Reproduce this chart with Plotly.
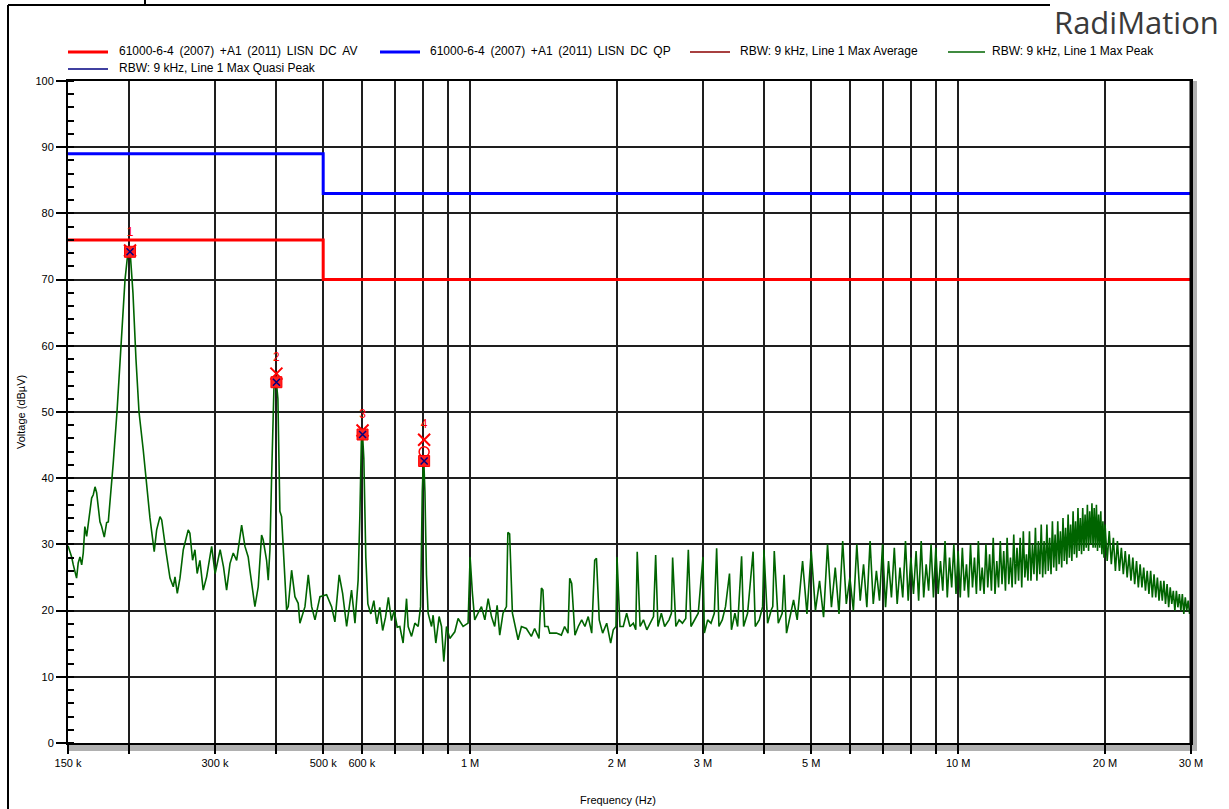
import plotly.graph_objects as go

# ---------------- data ----------------
# Limit lines (61000-6-4 (2007) +A1 (2011) LISN DC)
limit_freq_khz = [150, 500, 500, 30000]
av_limit_dbuv = [76, 76, 70, 70]
qp_limit_dbuv = [89, 89, 83, 83]

# Max Peak trace, 150 kHz .. 1 MHz (kHz / dBuV)
lf_freq_khz = [150.0, 152.6, 153.8, 156.2, 157.4, 158.7, 160.0, 161.2, 162.4, 163.8,
               167.7, 169.0, 170.4, 171.7, 174.4, 175.8, 178.0, 180.0, 181.4, 182.9,
               185.7, 189.0, 192.6, 196.3, 198.6, 200.0, 201.4, 203.8, 206.7, 209.7,
               213.9, 216.9, 220.8, 225.3, 227.9, 231.5, 233.4, 238.2, 242.7, 246.5,
               248.5, 251.2, 254.4, 258.4, 264.5, 266.6, 270.0, 273.0, 275.9, 279.5,
               283.9, 288.5, 295.4, 300.3, 307.5, 312.4, 317.0, 322.1, 327.1, 332.4,
               340.3, 345.7, 351.0, 353.8, 362.3, 368.0, 373.9, 376.7, 382.8, 385.8,
               388.9, 392.0, 396.3, 400.0, 403.8, 407.6, 410.9, 420.7, 424.0, 430.8,
               437.6, 444.4, 448.0, 458.8, 466.0, 473.5, 481.0, 492.5, 508.1, 520.2,
               528.4, 539.2, 548.0, 558.5, 571.6, 580.9, 589.6, 594.4, 598.6, 601.4,
               605.7, 611.4, 617.3, 626.0, 635.0, 644.0, 653.0, 662.0, 671.0, 680.0,
               690.0, 699.0, 709.0, 717.8, 729.0, 740.9, 746.6, 758.6, 770.6, 782.7,
               791.6, 798.0, 803.0, 808.0, 813.9, 820.3, 833.6, 839.9, 850.6, 864.0,
               873.8, 883.3, 894.6, 908.7, 930.4, 945.0, 967.5, 990.5]
lf_dbuv = [29.8, 28.1, 26.9, 24.9, 27.2, 28.1, 26.9, 28.7, 32.7, 31.2,
           37.0, 37.5, 38.7, 37.8, 33.4, 32.7, 31.1, 33.3, 33.4, 36.3,
           42.3, 50.0, 60.0, 70.0, 73.5, 74.4, 73.5, 68.0, 58.0, 50.0,
           44.3, 39.5, 34.0, 28.9, 32.2, 34.2, 33.7, 28.9, 24.9, 23.6,
           25.1, 22.6, 24.9, 29.2, 32.2, 31.7, 27.6, 29.2, 25.6, 27.6,
           23.1, 25.1, 29.7, 25.6, 29.2, 26.6, 23.1, 27.1, 28.7, 27.6,
           32.9, 29.7, 28.1, 26.1, 20.6, 23.6, 31.4, 30.7, 27.6, 24.6,
           29.2, 40.2, 53.5, 55.4, 52.0, 35.0, 34.2, 20.1, 20.6, 26.1,
           22.1, 21.1, 18.1, 20.6, 25.4, 20.6, 18.6, 22.1, 22.4, 20.6,
           18.3, 25.4, 22.6, 17.6, 23.1, 18.1, 24.6, 34.2, 45.5, 47.2,
           43.0, 28.0, 21.0, 19.5, 21.5, 18.0, 20.5, 17.0, 19.0, 22.0,
           18.5, 20.0, 17.5, 17.6, 15.1, 21.8, 17.6, 16.1, 18.1, 17.6,
           20.6, 38.0, 43.5, 38.0, 25.4, 19.6, 17.6, 19.3, 15.1, 19.1,
           17.6, 12.3, 17.6, 15.8, 16.8, 18.8, 17.6, 18.1]

# Max Peak trace, 1 MHz .. 4.7 MHz (MHz / dBuV)
mf_freq_mhz = [1.000, 1.011, 1.022, 1.038, 1.055, 1.072, 1.089, 1.106, 1.123, 1.136,
               1.150, 1.168, 1.187, 1.195, 1.205, 1.221, 1.234, 1.254, 1.274, 1.304,
               1.335, 1.356, 1.384, 1.400, 1.410, 1.422, 1.444, 1.456, 1.502, 1.538,
               1.562, 1.587, 1.600, 1.615, 1.640, 1.666, 1.693, 1.719, 1.746, 1.775,
               1.800, 1.815, 1.839, 1.869, 1.905, 1.941, 1.965, 1.990, 2.000, 2.028,
               2.060, 2.093, 2.126, 2.160, 2.185, 2.200, 2.230, 2.266, 2.302, 2.339,
               2.376, 2.400, 2.426, 2.465, 2.504, 2.556, 2.585, 2.600, 2.640, 2.681,
               2.723, 2.766, 2.800, 2.835, 2.889, 2.934, 3.000, 3.020, 3.067, 3.116,
               3.165, 3.200, 3.235, 3.286, 3.337, 3.400, 3.432, 3.488, 3.533, 3.600,
               3.634, 3.703, 3.800, 3.840, 3.913, 3.975, 4.000, 4.070, 4.140, 4.170,
               4.200, 4.280, 4.360, 4.400, 4.450, 4.520, 4.600, 4.680]
mf_dbuv = [28.1, 22.6, 18.6, 19.6, 20.6, 18.6, 21.8, 19.1, 17.6, 20.8,
           16.3, 19.6, 20.6, 31.8, 31.6, 19.6, 18.1, 15.6, 17.6, 17.3,
           16.1, 17.3, 15.8, 23.4, 23.1, 17.6, 17.6, 16.6, 16.6, 16.3,
           17.6, 16.6, 24.9, 24.1, 16.3, 17.6, 18.6, 17.6, 19.1, 16.6,
           27.6, 27.9, 18.6, 16.6, 18.1, 15.1, 17.1, 17.6, 28.1, 17.6,
           17.6, 19.6, 17.6, 18.1, 17.1, 28.9, 17.6, 18.6, 17.1, 18.1,
           19.1, 28.4, 17.6, 19.6, 17.6, 18.6, 19.6, 28.0, 17.6, 18.6,
           18.1, 18.8, 29.2, 17.6, 18.6, 19.6, 28.1, 16.6, 18.6, 18.1,
           19.6, 29.4, 17.6, 18.6, 20.6, 25.6, 17.1, 19.6, 17.6, 28.2,
           17.6, 19.6, 28.9, 17.6, 18.6, 20.6, 29.2, 18.1, 20.1, 20.6,
           29.0, 18.1, 19.6, 25.4, 16.6, 19.1, 21.6, 18.6]

# Max Peak trace, 4.8 MHz .. 10 MHz
hf1_freq_mhz = [4.8, 4.9, 5.0, 5.1, 5.2, 5.3, 5.4, 5.5, 5.6, 5.7,
                5.8, 5.9, 6.0, 6.1, 6.2, 6.3, 6.4, 6.5, 6.6, 6.7,
                6.8, 6.9, 7.0, 7.1, 7.2, 7.3, 7.4, 7.5, 7.6, 7.7,
                7.8, 7.9, 8.0, 8.1, 8.2, 8.3, 8.4, 8.5, 8.6, 8.7,
                8.8, 8.9, 9.0, 9.1, 9.2, 9.3, 9.4, 9.5, 9.6, 9.7,
                9.8, 9.9, 10.0]
hf1_dbuv = [27.5, 19.5, 29.0, 20.0, 24.5, 19.0, 30.0, 20.5, 26.5, 19.5,
            30.5, 21.0, 25.0, 20.0, 30.0, 21.5, 27.0, 20.5, 30.5, 21.0,
            26.0, 21.5, 30.0, 20.5, 27.5, 22.0, 29.5, 21.0, 26.5, 22.0,
            30.5, 21.5, 28.0, 22.5, 29.0, 21.5, 30.5, 22.0, 27.0, 23.0,
            30.0, 22.0, 29.5, 22.5, 27.5, 23.0, 30.5, 22.0, 28.0, 23.5,
            30.0, 22.5, 29.0]

# Max Peak trace, 10.1 MHz .. 20 MHz
hf2_freq_mhz = [10.1, 10.2, 10.3, 10.4, 10.5, 10.6, 10.7, 10.8, 10.9, 11.0,
                11.1, 11.2, 11.3, 11.4, 11.5, 11.6, 11.7, 11.8, 11.9, 12.0,
                12.1, 12.2, 12.3, 12.4, 12.5, 12.6, 12.7, 12.8, 12.9, 13.0,
                13.1, 13.2, 13.3, 13.4, 13.5, 13.6, 13.7, 13.8, 13.9, 14.0,
                14.1, 14.2, 14.3, 14.4, 14.5, 14.6, 14.7, 14.8, 14.9, 15.0,
                15.1, 15.2, 15.3, 15.4, 15.5, 15.6, 15.7, 15.8, 15.9, 16.0,
                16.1, 16.2, 16.3, 16.4, 16.5, 16.6, 16.7, 16.8, 16.9, 17.0,
                17.1, 17.2, 17.3, 17.4, 17.5, 17.6, 17.7, 17.8, 17.9, 18.0,
                18.1, 18.2, 18.3, 18.4, 18.5, 18.6, 18.7, 18.8, 18.9, 19.0,
                19.1, 19.2, 19.3, 19.4, 19.5, 19.6, 19.7, 19.8, 19.9, 20.0]
hf2_dbuv = [22.0, 29.5, 23.0, 27.0, 22.0, 30.0, 23.5, 28.0, 22.5, 30.5,
            23.0, 26.5, 22.5, 30.0, 23.5, 28.5, 23.0, 31.0, 22.5, 27.5,
            23.5, 30.5, 24.0, 29.0, 23.0, 31.0, 24.0, 28.0, 23.5, 31.5,
            24.0, 29.5, 24.5, 31.0, 23.5, 32.0, 25.0, 28.5, 24.5, 32.0,
            24.5, 30.0, 25.5, 32.5, 24.5, 30.5, 25.5, 33.0, 25.0, 30.5,
            25.5, 33.0, 26.0, 31.0, 25.5, 33.5, 26.5, 31.5, 26.0, 33.5,
            27.0, 32.0, 26.5, 34.0, 27.5, 32.5, 27.0, 34.5, 28.0, 33.0,
            27.5, 35.0, 28.5, 33.5, 28.0, 35.5, 29.0, 34.0, 28.5, 35.5,
            29.0, 34.5, 29.5, 36.0, 29.0, 35.0, 30.0, 36.2, 29.5, 35.5,
            29.5, 36.0, 29.0, 34.5, 29.5, 35.0, 28.5, 33.5, 28.0, 33.0]

# Max Peak trace, 20.2 MHz .. 30 MHz
hf3_freq_mhz = [20.2, 20.4, 20.6, 20.8, 21.0, 21.2, 21.4, 21.6, 21.8, 22.0,
                22.2, 22.4, 22.6, 22.8, 23.0, 23.2, 23.4, 23.6, 23.8, 24.0,
                24.2, 24.4, 24.6, 24.8, 25.0, 25.2, 25.4, 25.6, 25.8, 26.0,
                26.2, 26.4, 26.6, 26.8, 27.0, 27.2, 27.4, 27.6, 27.8, 28.0,
                28.2, 28.4, 28.6, 28.8, 29.0, 29.2, 29.4, 29.6, 29.8, 30.0]
hf3_dbuv = [27.5, 32.0, 27.0, 31.0, 26.0, 30.5, 26.0, 29.5, 25.5, 29.0,
            25.0, 28.5, 24.5, 28.0, 24.0, 27.5, 23.5, 27.0, 23.5, 26.5,
            23.0, 26.0, 22.5, 26.0, 22.0, 25.5, 22.0, 25.0, 21.5, 24.5,
            21.5, 24.5, 21.0, 24.0, 20.5, 23.5, 21.0, 23.0, 20.0, 23.0,
            20.5, 22.5, 20.0, 22.5, 19.5, 22.0, 20.0, 21.5, 19.5, 20.5]

# Markers
marker_freq_khz = [201, 401, 602, 805]
marker_labels = ["1", "2", "3", "4"]
marker_peak_dbuv = [74.4, 55.8, 47.2, 45.8]
marker_qp_dbuv = [74.2, 54.5, 46.6, 42.6]
marker_label_dbuv = [77.0, 58.2, 49.6, 48.1]
marker4_avg_freq_khz = [805]
marker4_avg_dbuv = [44.0]

# Axis ticks
x_grid_hz = [150e3, 200e3, 300e3, 400e3, 500e3, 600e3, 700e3, 800e3, 900e3,
             1e6, 2e6, 3e6, 4e6, 5e6, 6e6, 7e6, 8e6, 9e6, 10e6, 20e6, 30e6]
x_tick_text = ["150 k", "", "300 k", "", "500 k", "600 k", "", "", "",
               "1 M", "2 M", "3 M", "", "5 M", "", "", "", "", "10 M", "20 M", "30 M"]
y_ticks = [0, 10, 20, 30, 40, 50, 60, 70, 80, 90, 100]

legend_labels = ["61000-6-4 (2007) +A1 (2011) LISN DC AV",
                 "61000-6-4 (2007) +A1 (2011) LISN DC QP",
                 "RBW: 9 kHz, Line 1 Max Average",
                 "RBW: 9 kHz, Line 1 Max Peak",
                 "RBW: 9 kHz, Line 1 Max Quasi Peak"]

assert len(lf_freq_khz) == len(lf_dbuv)
assert len(mf_freq_mhz) == len(mf_dbuv)
assert len(hf1_freq_mhz) == len(hf1_dbuv)
assert len(hf2_freq_mhz) == len(hf2_dbuv)
assert len(hf3_freq_mhz) == len(hf3_dbuv)

# ---------------- layout helpers ----------------
W, H = 1229, 809
L, R, T, B = 68, 1191, 81, 743
FONT = "Liberation Sans, Arial, sans-serif"


def px(x):
    return (x - L) / (R - L)


def py(y):
    return (B - y) / (B - T)


peak_freq_hz = ([f * 1e3 for f in lf_freq_khz] + [f * 1e6 for f in mf_freq_mhz] +
                [f * 1e6 for f in hf1_freq_mhz] + [f * 1e6 for f in hf2_freq_mhz] +
                [f * 1e6 for f in hf3_freq_mhz])
peak_dbuv = lf_dbuv + mf_dbuv + hf1_dbuv + hf2_dbuv + hf3_dbuv
limit_freq_hz = [f * 1e3 for f in limit_freq_khz]
marker_freq_hz = [f * 1e3 for f in marker_freq_khz]

fig = go.Figure()
fig.add_trace(go.Scatter(x=peak_freq_hz, y=peak_dbuv, mode="lines",
                         line=dict(color="#006400", width=1.6), showlegend=False))
fig.add_trace(go.Scatter(x=limit_freq_hz, y=av_limit_dbuv, mode="lines",
                         line=dict(color="#ff0000", width=3), showlegend=False))
fig.add_trace(go.Scatter(x=limit_freq_hz, y=qp_limit_dbuv, mode="lines",
                         line=dict(color="#0000ff", width=3), showlegend=False))
# marker symbols
fig.add_trace(go.Scatter(x=marker_freq_hz, y=marker_peak_dbuv, mode="markers",
                         marker=dict(symbol="x-thin", size=12, line=dict(color="#ff0000", width=2)),
                         showlegend=False))
fig.add_trace(go.Scatter(x=[f * 1e3 for f in marker4_avg_freq_khz], y=marker4_avg_dbuv, mode="markers",
                         marker=dict(symbol="circle-open", size=10, color="#ff0000",
                                     line=dict(color="#ff0000", width=1.5)),
                         showlegend=False))
fig.add_trace(go.Scatter(x=marker_freq_hz, y=marker_qp_dbuv, mode="markers",
                         marker=dict(symbol="square", size=11, color="#ff2020",
                                     line=dict(color="#ff0000", width=1)),
                         showlegend=False))
fig.add_trace(go.Scatter(x=marker_freq_hz, y=marker_qp_dbuv, mode="markers",
                         marker=dict(symbol="x-thin", size=7, line=dict(color="#000080", width=1.5)),
                         showlegend=False))
fig.add_trace(go.Scatter(x=marker_freq_hz, y=marker_label_dbuv, mode="text",
                         text=marker_labels, textfont=dict(color="#ff0000", size=12, family=FONT),
                         showlegend=False))

shapes = []
annotations = []

# manual legend
legend_items = [
    (68, 108, 52, "#ff0000", 3, 117, 51, legend_labels[0]),
    (380, 420, 52, "#0000ff", 3, 428, 51, legend_labels[1]),
    (690, 730, 52, "#8b0000", 1.5, 738, 51, legend_labels[2]),
    (948, 985, 52, "#006400", 1.5, 990, 51, legend_labels[3]),
    (68, 108, 69, "#000080", 1.5, 117, 68, legend_labels[4]),
]
for x0, x1, yl, col, wd, xt, yt, txt in legend_items:
    shapes.append(dict(type="line", xref="paper", yref="paper", x0=px(x0), x1=px(x1),
                       y0=py(yl), y1=py(yl), line=dict(color=col, width=wd)))
    if "LISN" in txt:
        txt = txt.replace(" ", " \u2009")
    annotations.append(dict(xref="paper", yref="paper", x=px(xt), y=py(yt), text=txt,
                            showarrow=False, xanchor="left", yanchor="middle",
                            font=dict(family=FONT, size=12, color="#000000")))

# hatched bands (scroll strips)
shapes.append(dict(type="rect", xref="paper", yref="paper", x0=px(68), x1=px(1197),
                   y0=py(751), y1=py(744), fillcolor="#b0b0b0", line=dict(width=0), layer="below"))
shapes.append(dict(type="rect", xref="paper", yref="paper", x0=px(1192), x1=px(1197),
                   y0=py(751), y1=py(81), fillcolor="#b0b0b0", line=dict(width=0), layer="below"))
# thick right border
shapes.append(dict(type="line", xref="paper", yref="paper", x0=px(1191), x1=px(1191),
                   y0=py(743), y1=py(81), line=dict(color="#000000", width=3)))
# outer screenshot frame
shapes.append(dict(type="line", xref="paper", yref="paper", x0=px(8), x1=px(8),
                   y0=py(5), y1=py(812), line=dict(color="#000000", width=2)))
shapes.append(dict(type="line", xref="paper", yref="paper", x0=px(8), x1=px(1050),
                   y0=py(5), y1=py(5), line=dict(color="#000000", width=2)))
shapes.append(dict(type="line", xref="paper", yref="paper", x0=px(145), x1=px(145),
                   y0=py(-2), y1=py(5), line=dict(color="#000000", width=2)))

# titles and logo
annotations.append(dict(xref="paper", yref="paper", x=px(21), y=py(412), text="Voltage (dBµV)",
                        textangle=-90, showarrow=False, xanchor="center", yanchor="middle",
                        font=dict(family=FONT, size=11, color="#000000")))
annotations.append(dict(xref="paper", yref="paper", x=px(618), y=py(800), text="Frequency (Hz)",
                        showarrow=False, xanchor="center", yanchor="middle",
                        font=dict(family=FONT, size=11, color="#000000")))
annotations.append(dict(xref="paper", yref="paper", x=px(1136), y=py(22), text="RadiMation",
                        showarrow=False, xanchor="center", yanchor="middle",
                        font=dict(family="Open Sans, sans-serif", size=31, color="#3a3a3a")))

fig.update_layout(
    width=W, height=H,
    margin=dict(l=L, r=W - R, t=T, b=H - B, pad=0),
    paper_bgcolor="#ffffff", plot_bgcolor="#ffffff",
    showlegend=False,
    shapes=shapes, annotations=annotations,
    xaxis=dict(type="log", range=[5.176091, 7.477121],
               tickvals=x_grid_hz, ticktext=x_tick_text,
               showgrid=True, gridcolor="#1e1e1e", gridwidth=1.5,
               showline=True, linecolor="#000000", linewidth=2, mirror=True,
               ticks="outside", ticklen=9, tickwidth=1.5, tickcolor="#000000",
               tickfont=dict(family=FONT, size=11, color="#000000"),
               zeroline=False),
    yaxis=dict(range=[0, 100], tickvals=y_ticks,
               showgrid=True, gridcolor="#1e1e1e", gridwidth=1.5,
               showline=True, linecolor="#000000", linewidth=2, mirror=True,
               ticks="outside", ticklen=10, tickwidth=1.5, tickcolor="#000000",
               minor=dict(dtick=2, ticks="inside", ticklen=6, tickwidth=1.5,
                          tickcolor="#000000", showgrid=False),
               tickfont=dict(family=FONT, size=11, color="#000000"),
               zeroline=False),
)

fig.write_html("out.html", config={"displayModeBar": False},
               post_script="document.body.style.margin='0';document.body.style.padding='0';"
                           "document.body.style.overflow='hidden';")
